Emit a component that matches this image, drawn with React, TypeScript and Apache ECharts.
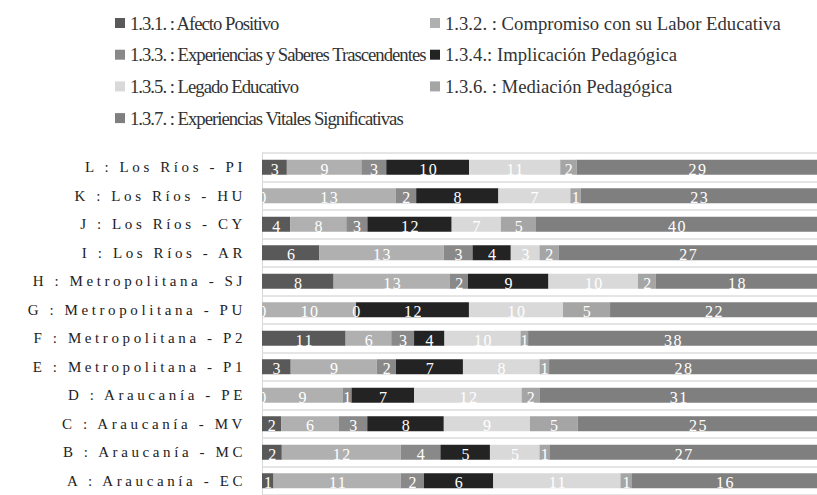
import React, { useEffect, useRef } from "react";
import * as echarts from "echarts";

const categories = [
  "A : Araucanía - EC",
  "B : Araucanía - MC",
  "C : Araucanía - MV",
  "D : Araucanía - PE",
  "E : Metropolitana - P1",
  "F : Metropolitana - P2",
  "G : Metropolitana - PU",
  "H : Metropolitana - SJ",
  "I : Los Ríos - AR",
  "J : Los Ríos - CY",
  "K : Los Ríos - HU",
  "L : Los Ríos - PI",
];

const seriesNames = [
  "1.3.1. : Afecto Positivo",
  "1.3.2. : Compromiso con su Labor Educativa",
  "1.3.3. : Experiencias y Saberes Trascendentes",
  "1.3.4.: Implicación Pedagógica",
  "1.3.5. : Legado Educativo",
  "1.3.6. : Mediación Pedagógica",
  "1.3.7. : Experiencias Vitales Significativas",
];

// values in category order A..L
const afectoPositivo = [1, 2, 2, 0, 3, 11, 0, 8, 6, 4, 0, 3];
const compromiso = [11, 12, 6, 9, 9, 6, 10, 13, 13, 8, 13, 9];
const saberesTrascendentes = [2, 4, 3, 1, 2, 3, 0, 2, 3, 3, 2, 3];
const implicacion = [6, 5, 8, 7, 7, 4, 12, 9, 4, 12, 8, 10];
const legado = [11, 5, 9, 12, 8, 10, 10, 10, 3, 7, 7, 11];
const mediacion = [1, 1, 5, 2, 1, 1, 5, 2, 2, 5, 1, 2];
const vitales = [16, 27, 25, 31, 28, 38, 22, 18, 27, 40, 23, 29];

const seriesValues = [
  afectoPositivo,
  compromiso,
  saberesTrascendentes,
  implicacion,
  legado,
  mediacion,
  vitales,
];

const colors = ["#595959", "#b0b0b0", "#898989", "#232323", "#d9d9d9", "#a5a5a5", "#7f7f7f"];

const SERIF = "Liberation Serif";

const leftLegend = [seriesNames[0], seriesNames[2], seriesNames[4], seriesNames[6]];
const rightLegend = [seriesNames[1], seriesNames[3], seriesNames[5]];

export default function App() {
  const ref = useRef<HTMLDivElement>(null);

  useEffect(() => {
    document.body.style.margin = "0";
    if (!ref.current) return;
    const chart = echarts.init(ref.current, undefined, { renderer: "svg" });

    const totals = categories.map((_, i) =>
      seriesValues.reduce((s, arr) => s + arr[i], 0)
    );

    const series = seriesValues.map((arr, si) => ({
      name: seriesNames[si],
      type: "bar",
      stack: "total",
      barWidth: 15,
      itemStyle: { color: colors[si] },
      label: {
        show: true,
        position: "inside",
        color: "#ffffff",
        fontFamily: SERIF,
        fontSize: 16,
        offset: [1, 2],
        formatter: (p: any) => String(arr[p.dataIndex]),
      },
      data: arr.map((v, i) => (v / totals[i]) * 100),
    }));

    const legendCommon = {
      orient: "vertical",
      itemWidth: 10,
      itemHeight: 10,
      icon: "rect",
      itemGap: 12.7,
      padding: 0,
      selectedMode: false,
      textStyle: { fontFamily: SERIF, fontSize: 18.7, color: "#333333", lineHeight: 19 },
    };

    chart.setOption({
      animation: false,
      color: colors,
      textStyle: { fontFamily: SERIF },
      legend: [
        { ...legendCommon, left: 115, top: 13.5, data: leftLegend },
        { ...legendCommon, left: 430, top: 13.5, data: rightLegend },
      ],
      grid: { left: 262, right: -2, top: 153, bottom: -4, containLabel: false },
      xAxis: {
        type: "value",
        min: 0,
        max: 100,
        show: false,
      },
      yAxis: {
        type: "category",
        data: categories,
        axisLine: { show: true, lineStyle: { color: "#d9d9d9", width: 1 } },
        axisTick: { show: false },
        splitLine: { show: true, lineStyle: { color: "#dcdcdc", width: 1.5 } },
        axisLabel: {
          fontFamily: SERIF,
          fontSize: 15,
          color: "#222222",
          margin: 16,
        },
      },
      series,
    });

    // text spacing tweaks applied to the rendered SVG texts
    const texts = ref.current.querySelectorAll("text");
    texts.forEach((t) => {
      const s = t.textContent || "";
      if (categories.includes(s)) {
        t.setAttribute("letter-spacing", "3.6");
      } else if (leftLegend.includes(s)) {
        t.setAttribute("letter-spacing", "-1");
      } else if (/^\d+$/.test(s)) {
        t.setAttribute("letter-spacing", "1.5");
      }
    });

    return () => chart.dispose();
  }, []);

  return <div ref={ref} style={{ width: 817, height: 495 }} />;
}
